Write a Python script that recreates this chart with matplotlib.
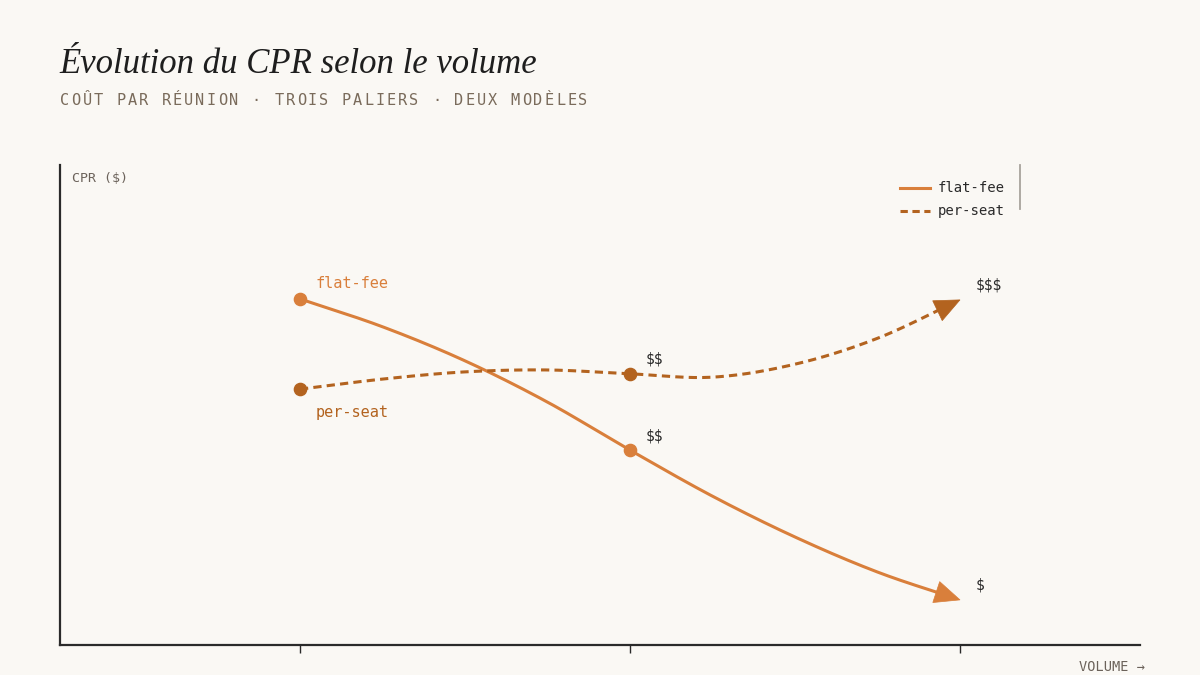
import numpy as np
import matplotlib
matplotlib.use("Agg")
import matplotlib.pyplot as plt
from matplotlib.patches import Polygon
from matplotlib.lines import Line2D
from matplotlib.transforms import IdentityTransform

plt.rcParams["text.parse_math"] = False

# ---------------- data ----------------
tier_labels = ["Démarrage", "Équipe moyenne", "Grande entreprise (1 000+)"]
tier_x = [0, 1, 2]
flat_fee_tiers = [72.1, 40.6, 9.4]
per_seat_tiers = [53.3, 56.5, 71.9]
flat_fee_price = ["", "$$", "$"]
per_seat_price = ["", "$$", "$$$"]
# values (volume position -> CPR)
curve_x = [0, 0.25, 0.5, 0.75, 1, 1.25, 1.5, 1.75, 2]
flat_fee_curve = [72.1, 66.3, 59.2, 50.6, 40.6, 31.0, 22.5, 15.2, 9.4]
per_seat_curve = [53.3, 55.4, 56.9, 57.3, 56.5, 55.8, 58.5, 63.9, 71.9]

# ---------------- style ----------------
BG = "#FAF8F4"
C_FLAT = "#D97F3B"
C_SEAT = "#B3631F"
DARK = "#2A2A2A"
GREY = "#6B625A"
MONO = ["DejaVu Sans Mono"]
W, H = 1200, 675


def catmull_rom(xs, ys, n=40):
    P = np.column_stack([xs, ys]).astype(float)
    P = np.vstack([2 * P[0] - P[1], P, 2 * P[-1] - P[-2]])
    out = []
    for i in range(1, len(P) - 2):
        p0, p1, p2, p3 = P[i - 1], P[i], P[i + 1], P[i + 2]
        t = np.linspace(0, 1, n, endpoint=(i == len(P) - 3))[:, None]
        seg = 0.5 * ((2 * p1) + (-p0 + p2) * t + (2 * p0 - 5 * p1 + 4 * p2 - p3) * t ** 2
                     + (-p0 + 3 * p1 - 3 * p2 + p3) * t ** 3)
        out.append(seg)
    out = np.vstack(out)
    return out[:, 0], out[:, 1]


fig = plt.figure(figsize=(W / 100, H / 100), dpi=100, facecolor=BG)
ax = fig.add_axes([60 / W, 30 / H, 1080 / W, 480 / H])
ax.set_facecolor(BG)
ax.set_xlim((60 - 300) / 330, (1140 - 300) / 330)
ax.set_ylim(0, 100)

for s in ["top", "right"]:
    ax.spines[s].set_visible(False)
for s in ["left", "bottom"]:
    ax.spines[s].set_color(DARK)
    ax.spines[s].set_linewidth(1.6)
ax.set_yticks([])
ax.set_xticks(tier_x)
ax.set_xticklabels(tier_labels, fontsize=10.5, color=GREY, family=MONO)
ax.tick_params(axis="x", length=6, width=1, color=DARK, pad=16)


def draw_series(ys_curve, tiers_y, color, dashed):
    cx, cy = catmull_rom(curve_x, ys_curve)
    pts = ax.transData.transform(np.column_stack([cx, cy]))
    tip = pts[-1]
    dist = np.hypot(pts[:, 0] - tip[0], pts[:, 1] - tip[1])
    keep = dist > 14
    ls = (0, (2.7, 1.7)) if dashed else "-"
    ax.plot(cx[keep], cy[keep], color=color, lw=2.2, ls=ls,
            solid_capstyle="butt", dash_capstyle="butt", zorder=3)
    # arrow head
    back = pts[np.argmin(np.abs(dist - 24))]
    d = (tip - back) / np.hypot(*(tip - back))
    nrm = np.array([-d[1], d[0]])
    base = tip - 25 * d
    tri = np.array([tip, base + 11 * nrm, base - 11 * nrm])
    ax.add_patch(Polygon(tri, closed=True, facecolor=color, edgecolor=color,
                         lw=0.5, transform=IdentityTransform(), clip_on=False, zorder=4))
    ax.plot(tier_x[:2], tiers_y[:2], "o", color=color, ms=8.8, mec=color, zorder=5)


draw_series(flat_fee_curve, flat_fee_tiers, C_FLAT, False)
draw_series(per_seat_curve, per_seat_tiers, C_SEAT, True)

# price labels
for xv, yv, lab in zip(tier_x, flat_fee_tiers, flat_fee_price):
    if lab:
        ax.annotate(lab, (xv, yv), xytext=(11, 5), textcoords="offset points",
                    fontsize=10.5, color=DARK, family=MONO, va="bottom", ha="left")
for xv, yv, lab in zip(tier_x, per_seat_tiers, per_seat_price):
    if lab:
        ax.annotate(lab, (xv, yv), xytext=(11, 5), textcoords="offset points",
                    fontsize=10.5, color=DARK, family=MONO, va="bottom", ha="left")

# series name labels
ax.annotate("flat-fee", (tier_x[0], flat_fee_tiers[0]), xytext=(11, 5.5),
            textcoords="offset points", fontsize=11, color=C_FLAT, family=MONO,
            va="bottom", ha="left")
ax.annotate("per-seat", (tier_x[0], per_seat_tiers[0]), xytext=(11, -11.5),
            textcoords="offset points", fontsize=11, color=C_SEAT, family=MONO,
            va="top", ha="left")


def ftext(x, y, s, **kw):
    fig.text(x / W, 1 - y / H, s, **kw)


# axis labels
ftext(72, 178, "CPR ($)", fontsize=9.6, color=GREY, family=MONO, va="center", ha="left")
ftext(1145, 667, "VOLUME →", fontsize=9.8, color=GREY, family=MONO, va="center", ha="right")

# legend
fig.add_artist(Line2D([900 / W, 930 / W], [1 - 188 / H] * 2, color=C_FLAT, lw=2.2))
fig.add_artist(Line2D([900 / W, 930 / W], [1 - 211 / H] * 2, color=C_SEAT, lw=2.2,
                      ls=(0, (2.4, 1.5))))
ftext(938, 188, "flat-fee", fontsize=10, color=DARK, family=MONO, va="center", ha="left")
ftext(938, 211, "per-seat", fontsize=10, color=DARK, family=MONO, va="center", ha="left")
fig.add_artist(Line2D([1020 / W] * 2, [1 - 165 / H, 1 - 209 / H], color="#A8A39C", lw=1.3))

# title & subtitle
ftext(59, 73, "Évolution du CPR selon le volume", fontsize=25, style="italic",
      family=["Liberation Serif", "DejaVu Serif"], color="#1E1E1E", va="baseline", ha="left")
sub = "COÛT PAR RÉUNION · TROIS PALIERS · DEUX MODÈLES"
for i, ch in enumerate(sub):
    ftext(60 + i * 11.27, 105, ch, fontsize=11, color="#7A6B5B", family=MONO,
          va="baseline", ha="left")

fig.savefig("out.png", dpi=100, facecolor=BG)
